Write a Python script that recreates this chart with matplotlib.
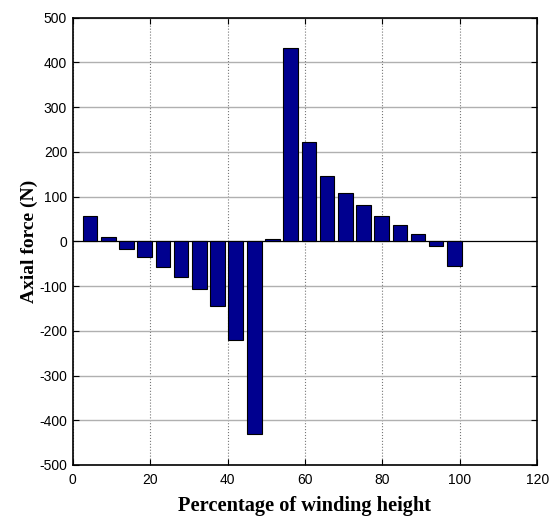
import matplotlib
matplotlib.use("Agg")
import matplotlib.pyplot as plt
import numpy as np

plt.rcParams['axes.unicode_minus'] = False

positions = [4.5, 9.2, 13.9, 18.6, 23.3, 28.0, 32.7, 37.4, 42.1, 46.9, 51.6,
             56.3, 61.0, 65.7, 70.4, 75.1, 79.8, 84.5, 89.2, 93.9, 98.6]
forces = [57, 10, -16, -36, -57, -80, -106, -145, -221, -431, 5,
          432, 222, 146, 108, 81, 57, 37, 17, -11, -56]
xticks = [0, 20, 40, 60, 80, 100, 120]
yticks = [-500, -400, -300, -200, -100, 0, 100, 200, 300, 400, 500]

fig = plt.figure(figsize=(5.55, 5.23), dpi=100)
ax = fig.add_axes([0.131, 0.111, 0.837, 0.855])

ax.bar(positions, forces, width=3.76, color='#00008F', edgecolor='black',
       linewidth=0.8, zorder=3)

ax.set_xlim(0, 120)
ax.set_ylim(-500, 500)
ax.set_xticks(xticks)
ax.set_yticks(yticks)
ax.tick_params(direction='in', length=4, labelsize=10, top=True, right=True)
ax.tick_params(axis='x', pad=6)
ax.tick_params(axis='y', pad=4)
for lab in ax.get_xticklabels() + ax.get_yticklabels():
    lab.set_fontfamily('Liberation Sans')

ax.xaxis.grid(True, linestyle=':', color='#777777', linewidth=0.8, zorder=0)
ax.yaxis.grid(True, linestyle='-', color='#b0b0b0', linewidth=1.0, zorder=0)
ax.axhline(0, color='black', linewidth=0.8, zorder=2)
for s in ax.spines.values():
    s.set_linewidth(1.2)

ax.set_xlabel('Percentage of winding height', fontfamily='Liberation Serif',
              fontweight='bold', fontsize=14.7, labelpad=6)
ax.set_ylabel('Axial force (N)', fontfamily='Liberation Serif',
              fontweight='bold', fontsize=14, labelpad=1)

fig.savefig('out.png', dpi=100)
